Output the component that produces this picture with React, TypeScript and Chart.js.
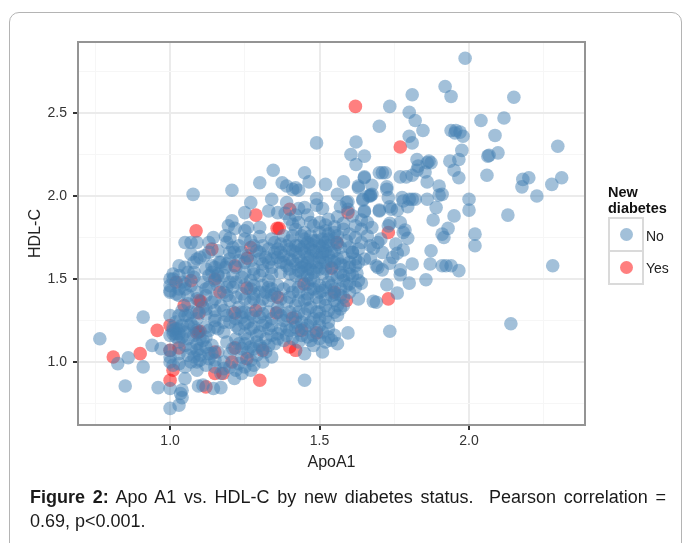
import React, { useEffect, useRef } from "react";
import { Chart, registerables } from "chart.js";

Chart.register(...registerables);

const noOuter: number[][] = [
  [1.987,2.83],[1.92,2.66],[1.94,2.6],[1.81,2.61],[2.15,2.595],[1.735,2.54],[1.8,2.505],[1.82,2.455],[2.04,2.455],[2.117,2.47],
  [1.7,2.42],[1.846,2.395],[2.087,2.365],[1.94,2.395],[1.956,2.395],[1.953,2.38],[1.98,2.36],[1.97,2.385],[1.8,2.36],[1.81,2.32],
  [1.622,2.325],[2.297,2.3],[1.976,2.275],[2.097,2.26],[2.067,2.245],[2.063,2.24],[1.605,2.25],[1.65,2.24],[1.622,2.19],[1.826,2.22],
  [1.866,2.21],[1.873,2.2],[1.86,2.2],[1.936,2.21],[1.966,2.22],[1.95,2.155],[1.966,2.11],[2.06,2.125],[2.2,2.11],[2.18,2.1],
  [2.177,2.055],[2.31,2.11],[2.277,2.07],[2.227,2.0],[2.0,1.98],[2.0,1.915],[2.13,1.885],[1.95,1.88],[1.89,1.93],[1.88,1.855],
  [1.93,1.805],[1.91,1.77],[1.916,1.75],[2.02,1.77],[2.02,1.7],[1.873,1.67],[2.28,1.58],[1.966,1.55],[1.94,1.58],[1.91,1.58],
  [1.923,1.58],[1.87,1.59],[1.81,1.59],[1.856,1.495],[1.8,1.475],[1.725,1.465],[2.14,1.23],[1.735,1.185],[1.595,1.175],[1.76,1.415],
  [1.68,1.365],[1.69,1.36],[1.63,1.38],[1.49,2.32],[1.45,2.14],[1.465,2.085],[1.52,2.07],[1.58,2.085],[1.43,2.035],[1.65,2.115],
  [1.077,2.01],[1.207,2.035],[1.3,2.08],[1.345,2.155],[1.375,2.08],[1.39,2.06],[1.41,2.04],[1.42,2.05],[1.27,1.96],[1.34,1.98],
  [1.39,1.96],[1.25,1.9],[1.33,1.91],[1.36,1.9],[1.385,1.895],[1.42,1.885],[1.207,1.85],[1.195,1.82],[1.217,1.805],[1.26,1.81],
  [1.3,1.755],[1.05,1.72],[1.07,1.72],[1.09,1.72],[1.145,1.75],[1.13,1.72],[1.185,1.76],[1.2,1.745],[1.19,1.72],[1.21,1.69],
  [1.215,1.66],[1.16,1.67],[1.09,1.62],[1.08,1.6],[1.115,1.64],[1.05,1.57],[1.08,1.54],[1.01,1.53],[1.15,1.57],[1.165,1.6],
  [1.185,1.57],[1.14,1.54],[1.16,1.53],[1.11,1.48],
];
const noUpper: number[][] = [
  [1.71,2.14],[1.7,2.14],[1.72,2.14],[1.77,2.115],[1.79,2.115],[1.81,2.125],[1.826,2.155],[1.83,2.18],[1.853,2.145],[1.86,2.085],
  [1.9,2.06],[1.9,2.005],[1.91,2.01],[1.63,2.06],[1.65,2.11],[1.675,2.065],[1.67,2.005],[1.665,2.0],[1.675,2.01],[1.725,2.055],
  [1.73,1.99],[1.776,1.99],[1.78,1.97],[1.81,1.98],[1.8,1.98],[1.82,1.98],[1.86,1.98],[1.59,1.96],[1.645,1.975],[1.65,1.905],
  [1.7,1.915],[1.735,1.935],[1.76,1.915],[1.795,1.935],[1.66,1.84],[1.735,1.835],[1.77,1.84],[1.786,1.795],[1.795,1.745],[1.78,1.78],
  [1.68,1.685],[1.71,1.66],[1.67,1.625],[1.78,1.675],[1.76,1.655],[1.745,1.63],[1.695,1.57],[1.71,1.555],[1.735,1.595],[1.77,1.555],
  [1.77,1.525],[1.625,1.535],[1.64,1.475],[1.56,2.01],[1.49,1.985],[1.51,1.925],[1.46,1.885],[1.49,1.945],[1.43,1.925],[1.595,1.965],
  [1.595,1.92],[1.57,1.935],[1.56,1.875],[1.58,1.835],[1.52,1.825],[1.55,1.815],[1.645,1.98],[1.63,2.05],[1.67,2.0],[1.725,2.04],
  [1.65,1.91],[1.7,1.91],[1.74,1.92],[1.705,1.74],[1.695,1.72],[1.73,1.82],[1.64,1.855],[1.675,1.81],[1.755,1.71],[1.62,1.75],
  [1.64,1.72],[1.67,1.7],[1.65,1.62],[1.69,1.58],[1.61,1.66],[1.6,1.6],[1.62,1.58],[1.58,1.52],[1.6,1.47],[1.57,1.4],
  [1.56,1.34],[1.52,1.27],[1.5,1.22],[1.53,1.15],[1.56,1.11],[1.48,1.1],[1.45,1.05],[1.51,1.06],[1.47,1.13],[1.44,1.16],
];
const noCore: number[][] = [
  [1.08,1.03],[1.1,1.04],[1.13,1.05],[1.16,1.06],[1.2,1.05],[1.24,1.03],[1.26,1.06],[1.29,1.04],[1.32,1.06],[1.34,1.03],
  [1.03,1.12],[1.06,1.14],[1.09,1.11],[1.11,1.13],[1.14,1.1],[1.19,1.12],[1.23,1.11],[1.26,1.14],[1.29,1.12],[1.32,1.14],
  [1.35,1.11],[1.38,1.13],[1.43,1.12],[1.46,1.15],[1.5,1.14],[1.52,1.12],[1.54,1.13],
  [1.01,1.19],[1.02,1.17],[1.03,1.2],[1.05,1.18],[1.08,1.21],[1.13,1.19],[1.15,1.21],[1.18,1.18],[1.23,1.2],[1.25,1.17],
  [1.28,1.21],[1.3,1.18],[1.33,1.2],[1.36,1.17],[1.39,1.21],[1.43,1.19],[1.46,1.22],[1.49,1.19],[1.53,1.2],
  [1.06,1.28],[1.09,1.26],[1.12,1.29],[1.15,1.27],[1.19,1.28],[1.22,1.26],[1.25,1.3],[1.28,1.27],[1.31,1.29],[1.34,1.26],
  [1.37,1.28],[1.4,1.3],[1.42,1.27],[1.45,1.29],[1.48,1.26],[1.5,1.3],[1.56,1.28],
  [1.06,1.35],[1.11,1.33],[1.14,1.36],[1.17,1.34],[1.2,1.37],[1.23,1.33],[1.27,1.36],[1.3,1.34],[1.33,1.37],[1.36,1.33],
  [1.39,1.36],[1.42,1.34],[1.45,1.37],[1.47,1.33],[1.5,1.36],[1.52,1.34],[1.55,1.37],[1.58,1.34],
  [1.0,1.43],[1.02,1.41],[1.05,1.44],[1.09,1.42],[1.13,1.45],[1.18,1.42],[1.21,1.45],[1.24,1.41],[1.27,1.44],[1.3,1.42],
  [1.33,1.45],[1.35,1.41],[1.38,1.44],[1.41,1.42],[1.43,1.45],[1.46,1.41],[1.48,1.44],[1.5,1.42],[1.52,1.45],[1.55,1.41],
  [1.57,1.44],[1.6,1.42],
  [1.01,1.5],[1.04,1.48],[1.08,1.51],[1.15,1.49],[1.18,1.52],[1.2,1.48],[1.24,1.51],[1.27,1.49],[1.3,1.52],[1.33,1.49],
  [1.42,1.52],[1.44,1.49],[1.46,1.52],[1.48,1.49],[1.51,1.53],[1.53,1.48],[1.56,1.51],[1.58,1.49],[1.61,1.52],[1.63,1.49],
  [1.03,1.58],[1.12,1.56],[1.19,1.59],[1.22,1.57],[1.25,1.6],[1.28,1.56],[1.31,1.59],[1.34,1.57],[1.37,1.6],[1.4,1.56],
  [1.42,1.59],[1.44,1.57],[1.46,1.6],[1.47,1.56],[1.52,1.6],[1.54,1.57],[1.57,1.59],[1.6,1.57],[1.63,1.6],
  [1.07,1.65],[1.1,1.63],[1.13,1.66],[1.26,1.64],[1.29,1.67],[1.32,1.63],[1.35,1.66],[1.38,1.64],[1.41,1.67],[1.43,1.63],
  [1.45,1.66],[1.47,1.64],[1.48,1.67],[1.5,1.63],[1.51,1.66],[1.53,1.64],[1.55,1.67],[1.58,1.63],[1.61,1.66],
  [1.23,1.7],[1.27,1.73],[1.31,1.7],[1.34,1.74],[1.37,1.71],[1.4,1.73],[1.43,1.7],[1.45,1.74],[1.47,1.71],[1.49,1.73],
  [1.51,1.7],[1.53,1.74],[1.56,1.71],[1.59,1.73],
  [1.25,1.79],[1.3,1.81],[1.42,1.8],[1.45,1.78],[1.48,1.82],[1.52,1.79],[1.55,1.78],[1.58,1.8],
  [1.4,1.62],[1.42,1.66],[1.44,1.6],[1.45,1.7],[1.46,1.63],[1.47,1.68],[1.48,1.6],[1.48,1.73],[1.49,1.66],[1.49,1.57],
  [1.5,1.7],[1.5,1.6],[1.51,1.63],[1.51,1.74],[1.52,1.67],[1.52,1.56],[1.53,1.7],[1.54,1.61],[1.44,1.54],[1.46,1.56],
  [1.48,1.54],[1.5,1.56],[1.42,1.7],[1.4,1.68],[1.54,1.66],[1.56,1.62],[1.36,1.68],[1.34,1.62],[1.38,1.6],[1.46,1.47],
  [1.5,1.46],[1.54,1.46],[1.32,1.42],[1.36,1.46],[1.28,1.38],[1.24,1.3],[1.2,1.24],[1.16,1.2],[1.12,1.15],[1.26,1.24],
  [1.32,1.24],[1.38,1.25],[1.42,1.24],[1.34,1.16],[1.3,1.1],[1.1,1.08],[1.27,1.09],[1.15,1.01],
  [1.0,1.16],[1.01,1.21],[1.02,1.15],[1.03,1.17],[1.01,1.17],[1.02,1.2],[1.04,1.15],[1.0,1.28],[1.05,1.28],[1.0,1.42],
  [1.0,1.5],[1.05,1.47],[1.06,1.4],[1.0,1.0],[1.0,1.03],[1.0,1.07],[1.01,0.98],[1.03,0.99],[1.05,0.97],[1.09,0.95],
  [1.0,0.84],[1.0,0.72],[1.03,0.74],[1.04,0.785],[1.04,0.83],[1.035,0.81],[0.96,0.845],[1.05,0.9],[1.095,0.855],[1.11,0.86],
  [1.145,0.84],[1.17,0.845],[1.215,0.9],[1.45,0.89],[0.85,0.855],[0.91,0.97],[0.825,0.99],[0.86,1.025],[0.765,1.14],[0.91,1.27],
  [0.94,1.1],[0.97,1.08],[1.07,1.0],[1.09,1.0],[1.12,0.98],[1.15,0.97],[1.18,0.96],[1.22,0.95],[1.25,0.97],[1.28,0.98],
  [1.31,1.0],[1.13,1.02],[1.18,1.0],[1.23,0.99],[1.27,1.01],
];
const noFill: number[][] = [
  [1.09,1.07],[1.12,1.09],[1.14,1.05],[1.21,1.08],[1.24,1.08],[1.22,1.14],[1.25,1.11],[1.28,1.08],[1.31,1.08],[1.33,1.1],
  [1.36,1.14],[1.39,1.16],[1.41,1.14],[1.45,1.2],[1.48,1.16],[1.51,1.18],[1.55,1.16],[1.08,1.16],[1.1,1.14],[1.12,1.21],
  [1.15,1.25],[1.18,1.24],[1.22,1.22],[1.25,1.23],[1.27,1.2],[1.29,1.16],[1.31,1.22],[1.34,1.22],[1.37,1.2],[1.4,1.19],
  [1.42,1.21],[1.44,1.24],[1.47,1.24],[1.5,1.26],[1.53,1.24],[1.55,1.3],[1.07,1.23],[1.09,1.3],[1.12,1.32],[1.15,1.31],
  [1.18,1.31],[1.21,1.3],[1.24,1.27],[1.27,1.29],[1.3,1.27],[1.33,1.3],[1.36,1.3],[1.39,1.28],[1.43,1.3],[1.46,1.32],
  [1.49,1.3],[1.53,1.31],[1.57,1.32],[1.09,1.38],[1.12,1.4],[1.15,1.38],[1.19,1.4],[1.22,1.39],[1.25,1.38],[1.28,1.41],
  [1.31,1.38],[1.34,1.4],[1.37,1.38],[1.4,1.39],[1.43,1.37],[1.46,1.38],[1.49,1.39],[1.52,1.38],[1.54,1.4],[1.58,1.39],
  [1.03,1.44],[1.07,1.46],[1.12,1.44],[1.16,1.46],[1.19,1.45],[1.22,1.48],[1.25,1.46],[1.28,1.46],[1.31,1.46],[1.34,1.44],
  [1.4,1.46],[1.43,1.42],[1.47,1.44],[1.51,1.43],[1.55,1.44],[1.59,1.46],[1.62,1.45],[1.13,1.52],[1.16,1.52],[1.21,1.52],
  [1.25,1.54],[1.28,1.53],[1.31,1.55],[1.34,1.53],[1.37,1.54],[1.4,1.53],[1.43,1.55],[1.47,1.5],[1.54,1.52],[1.57,1.54],
  [1.6,1.53],[1.14,1.58],[1.17,1.6],[1.2,1.62],[1.23,1.61],[1.27,1.61],[1.3,1.62],[1.33,1.6],[1.36,1.63],[1.39,1.58],
  [1.41,1.61],[1.45,1.58],[1.55,1.6],[1.58,1.58],[1.62,1.62],[1.2,1.66],[1.24,1.66],[1.28,1.7],[1.3,1.66],[1.33,1.68],
  [1.37,1.66],[1.39,1.7],[1.44,1.68],[1.46,1.72],[1.52,1.72],[1.55,1.74],[1.57,1.69],[1.6,1.69],[1.63,1.68],[1.25,1.74],
  [1.35,1.72],[1.38,1.76],[1.41,1.76],[1.44,1.76],[1.47,1.76],[1.5,1.78],[1.53,1.77],[1.56,1.76],[1.6,1.77],[1.43,1.84],
  [1.47,1.84],[1.5,1.84],[1.53,1.86],[1.41,1.83],[1.45,1.93],[1.4,1.86],[1.62,1.82],[1.61,1.88],[1.64,1.8],[1.66,1.76],
  [1.03,1.52],[1.06,1.54],[1.03,1.4],[1.0,1.46],[1.03,1.28],[1.07,1.3],[1.04,1.31],[1.05,1.1],[1.07,1.08],[1.06,1.04],
  [1.1,1.01],[1.06,1.22],[1.09,1.19],[1.02,1.24],[1.04,1.22],[1.17,0.93],[1.2,0.97],[1.24,0.93],[1.27,0.95],[1.03,1.05],
];
const yesPoints: number[][] = [
  [0.81,1.03],[0.9,1.05],[0.957,1.19],[1.0,1.22],[1.0,0.89],[1.01,0.95],[1.0,1.07],[1.03,1.085],[1.02,1.48],[1.07,1.49],
  [1.15,1.5],[1.167,1.42],[1.047,1.34],[1.097,1.37],[1.103,1.365],[1.097,1.295],[1.09,1.175],[1.095,1.18],[1.1,1.185],[1.15,0.93],
  [1.177,0.93],[1.12,0.85],[1.207,1.0],[1.257,1.02],[1.217,1.295],[1.287,1.31],[1.355,1.295],[1.41,1.265],[1.31,1.07],[1.4,1.09],
  [1.42,1.07],[1.3,0.89],[1.44,1.19],[1.49,1.175],[1.448,1.47],[1.55,1.42],[1.54,1.565],[1.087,1.79],[1.287,1.885],[1.4,1.92],
  [1.358,1.805],[1.365,1.805],[1.27,1.69],[1.258,1.625],[1.14,1.68],[1.217,1.58],[1.558,1.72],[1.62,2.54],[1.77,2.295],[1.595,1.9],
  [1.73,1.78],[1.73,1.38],[1.59,1.37],[1.36,1.39],[1.257,1.445],[1.217,1.085],[1.15,1.06],
];

const xMajor = [1.0, 1.5, 2.0];
const yMajor = [1.0, 1.5, 2.0, 2.5];
const isMajor = (list: number[], v: number) => list.some((m) => Math.abs(m - v) < 1e-6);
const toPts = (rows: number[][]) => rows.map(([x, y]) => ({ x, y }));

const panelBorder = {
  id: "panelBorder",
  afterDraw(chart: any) {
    const { ctx, chartArea: a } = chart;
    ctx.save();
    ctx.strokeStyle = "#949494";
    ctx.lineWidth = 2;
    ctx.strokeRect(a.left, a.top, a.right - a.left, a.bottom - a.top);
    ctx.restore();
  },
};

const FONT = "'Liberation Sans', Arial, sans-serif";

export default function App() {
  const ref = useRef<HTMLCanvasElement>(null);
  useEffect(() => {
    const axis = (list: number[], min: number, max: number, title: string, extra: any) => ({
      type: "linear",
      min,
      max,
      afterFit: extra.afterFit,
      border: { display: false },
      grid: {
        color: (c: any) => (isMajor(list, c.tick.value) ? "#ebebeb" : "#f6f6f6"),
        lineWidth: (c: any) => (isMajor(list, c.tick.value) ? 2 : 1),
        tickColor: (c: any) => (isMajor(list, c.tick.value) ? "#333333" : "rgba(0,0,0,0)"),
        tickLength: 5,
        tickWidth: 2,
      },
      ticks: {
        stepSize: 0.25,
        includeBounds: false,
        autoSkip: false,
        maxRotation: 0,
        color: "#333333",
        padding: extra.tickPadding,
        font: { family: FONT, size: 14 },
        callback: (v: any) => (isMajor(list, Number(v)) ? Number(v).toFixed(1) : ""),
      },
      title: {
        display: true,
        text: title,
        color: "#222222",
        padding: extra.titlePadding,
        font: { family: FONT, size: 16 },
      },
    });
    const chart = new Chart(ref.current as HTMLCanvasElement, {
      type: "scatter",
      data: {
        datasets: [
          {
            label: "No",
            data: toPts([...noOuter, ...noUpper, ...noCore, ...noFill]),
            pointBackgroundColor: "rgba(70,130,180,0.5)",
            pointBorderColor: "rgba(0,0,0,0)",
            pointBorderWidth: 0,
            pointRadius: 6.8,
          },
          {
            label: "Yes",
            data: toPts(yesPoints),
            pointBackgroundColor: "rgba(255,0,0,0.5)",
            pointBorderColor: "rgba(0,0,0,0)",
            pointBorderWidth: 0,
            pointRadius: 6.8,
          },
        ],
      },
      options: {
        responsive: false,
        animation: false,
        layout: { padding: { left: 26, right: 98, top: 42, bottom: 70 } },
        plugins: { legend: { display: false }, tooltip: { enabled: false }, title: { display: false } },
        scales: {
          x: axis(xMajor, 0.692, 2.388, "ApoA1", {
            tickPadding: 3,
            titlePadding: { top: 0, bottom: 1 },
            afterFit: (s: any) => { s.height = 48; },
          }),
          y: axis(yMajor, 0.62, 2.928, "HDL-C", {
            tickPadding: 6,
            titlePadding: { top: 0, bottom: 0 },
            afterFit: (s: any) => { s.width = 52; },
          }),
        },
      } as any,
      plugins: [panelBorder],
    } as any);
    return () => chart.destroy();
  }, []);

  const keyBox: React.CSSProperties = {
    position: "absolute",
    left: 608,
    width: 32,
    height: 31,
    border: "2px solid #dadada",
    boxSizing: "content-box",
    background: "#fff",
  };
  const dot = (color: string): React.CSSProperties => ({
    position: "absolute",
    left: 9.5,
    top: 9,
    width: 13,
    height: 13,
    borderRadius: "50%",
    background: color,
  });
  const keyText: React.CSSProperties = {
    position: "absolute",
    left: 646,
    fontFamily: FONT,
    fontSize: 14,
    lineHeight: "16px",
    color: "#222",
  };

  return (
    <div style={{ position: "absolute", left: 0, top: 0, width: 683, height: 543, overflow: "hidden", background: "#fff" }}>
      <div
        style={{
          position: "absolute",
          left: 9,
          top: 12,
          width: 673,
          height: 620,
          border: "1px solid #b4b4b4",
          borderRadius: 10,
          boxSizing: "border-box",
        }}
      />
      <canvas ref={ref} width={683} height={543} style={{ position: "absolute", left: 0, top: 0, width: 683, height: 543 }} />
      <div style={{ position: "absolute", left: 608, top: 185, fontFamily: FONT, fontSize: 14.5, fontWeight: 700, lineHeight: "15.5px", color: "#111" }}>
        New
        <br />
        diabetes
      </div>
      <div style={{ ...keyBox, top: 217 }}>
        <div style={dot("rgba(70,130,180,0.5)")} />
      </div>
      <div style={{ ...keyBox, top: 250 }}>
        <div style={dot("rgba(255,0,0,0.5)")} />
      </div>
      <div style={{ ...keyText, top: 228 }}>No</div>
      <div style={{ ...keyText, top: 260 }}>Yes</div>
      <div
        style={{
          position: "absolute",
          left: 30,
          top: 485,
          width: 636,
          fontFamily: FONT,
          fontSize: 18,
          lineHeight: "24px",
          color: "#1a1a1a",
        }}
      >
        <div style={{ textAlign: "justify", textAlignLast: "justify", whiteSpace: "normal" }}>
          <b>Figure 2:</b> Apo A1 vs. HDL-C by new diabetes status.&nbsp; Pearson correlation =
        </div>
        <div>0.69, p&lt;0.001.</div>
      </div>
    </div>
  );
}
